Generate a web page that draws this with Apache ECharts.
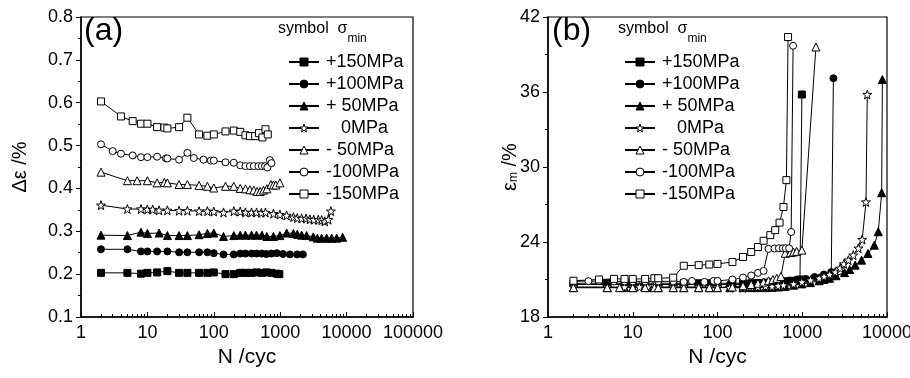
<!DOCTYPE html>
<html>
<head>
<meta charset="utf-8">
<script src="https://cdn.jsdelivr.net/npm/echarts@6/dist/echarts.min.js"></script>
<style>
html,body{margin:0;padding:0;background:#fff}
#chart{width:910px;height:378px}
</style>
</head>
<body>
<div id="chart"></div>
<script>
// panel (a): strain range vs cycles
var nA_p150 = [2,5,8,10,14,20,30,40,60,80,100,150,200,250,300,370,440,530,620,740,890,970];
var deA_p150 = [0.203,0.203,0.201,0.203,0.204,0.207,0.203,0.203,0.203,0.203,0.204,0.200,0.200,0.203,0.203,0.203,0.204,0.203,0.204,0.203,0.201,0.200];
var nA_p100 = [2,5,8,10,14,20,30,40,60,80,100,140,200,250,300,370,440,530,620,740,890,1100,1400,1800,2200];
var deA_p100 = [0.258,0.258,0.253,0.253,0.253,0.253,0.251,0.251,0.251,0.251,0.249,0.246,0.246,0.248,0.248,0.248,0.248,0.248,0.247,0.248,0.249,0.247,0.246,0.246,0.246];
var nA_p50 = [2,5,8,10,15,20,30,40,60,80,100,140,200,250,300,370,440,530,630,790,990,1250,1580,1810,2100,2500,3150,3630,4210,5010,5960,7080,8720];
var deA_p50 = [0.291,0.290,0.298,0.295,0.296,0.290,0.290,0.290,0.292,0.295,0.296,0.288,0.290,0.291,0.291,0.291,0.291,0.291,0.288,0.288,0.290,0.296,0.295,0.293,0.291,0.290,0.287,0.284,0.284,0.284,0.284,0.284,0.286];
var nA_0 = [2,5,8,10,12,15,20,30,40,60,80,100,140,200,250,300,370,440,520,600,790,990,1250,1580,1810,2100,2450,2800,3200,3750,4200,4700,5300,5800];
var deA_0 = [0.361,0.352,0.352,0.351,0.351,0.349,0.349,0.348,0.348,0.347,0.347,0.346,0.344,0.347,0.346,0.344,0.344,0.344,0.343,0.344,0.341,0.339,0.337,0.333,0.331,0.330,0.330,0.328,0.327,0.327,0.326,0.323,0.327,0.347];
var nA_m50 = [2,5,7,10,14,18,20,30,40,60,80,100,150,200,250,300,350,400,450,500,560,630,725,790,860,990];
var deA_m50 = [0.438,0.418,0.418,0.418,0.413,0.414,0.413,0.409,0.409,0.407,0.405,0.401,0.405,0.405,0.400,0.399,0.397,0.396,0.393,0.393,0.396,0.399,0.409,0.408,0.408,0.413];
var nA_m100 = [2,3,4,6,8,10,14,19,20,30,40,50,70,90,100,150,200,250,300,350,400,470,530,590,640,700,740];
var deA_m100 = [0.503,0.487,0.481,0.477,0.473,0.473,0.474,0.470,0.470,0.467,0.483,0.471,0.467,0.465,0.465,0.461,0.460,0.454,0.452,0.452,0.452,0.452,0.452,0.452,0.449,0.466,0.459];
var nA_m150 = [2,4,6,8,10,14,18,20,30,40,60,80,100,150,200,250,300,350,420,480,540,600,650];
var deA_m150 = [0.603,0.568,0.557,0.551,0.551,0.543,0.542,0.540,0.543,0.565,0.526,0.523,0.526,0.533,0.535,0.532,0.524,0.522,0.522,0.529,0.519,0.538,0.526];

// panel (b): mean strain vs cycles
var nB_p150 = [2,5,8,10,14,20,30,40,60,80,100,150,200,250,300,370,440,530,620,740,890,940,990];
var emB_p150 = [20.7,20.7,20.7,20.7,20.7,20.7,20.7,20.7,20.7,20.7,20.7,20.7,20.7,20.7,20.72,20.75,20.78,20.82,20.86,20.9,20.95,21.0,35.8];
var nB_p100 = [2,5,8,10,14,20,30,40,60,80,100,140,200,250,300,370,440,530,620,740,890,1100,1400,1800,2200,2330];
var emB_p100 = [20.6,20.6,20.6,20.6,20.6,20.6,20.6,20.6,20.6,20.6,20.6,20.6,20.6,20.6,20.62,20.65,20.7,20.75,20.8,20.85,20.95,21.05,21.2,21.4,21.6,37.1];
var nB_p50 = [2,5,8,10,15,20,30,40,60,80,100,140,200,250,300,370,440,530,630,790,990,1250,1580,1810,2100,2500,3150,3630,4210,5010,5960,7080,7890,8650,8820];
var emB_p50 = [20.35,20.35,20.35,20.35,20.35,20.35,20.35,20.35,20.35,20.35,20.35,20.35,20.35,20.35,20.35,20.35,20.37,20.4,20.45,20.55,20.65,20.75,20.9,21.0,21.1,21.3,21.55,21.8,22.15,22.55,23.08,23.75,24.82,27.94,37.0];
var nB_0 = [2,5,8,10,12,15,20,30,40,60,80,100,140,200,250,300,370,440,520,600,790,990,1250,1580,1810,2100,2450,2800,3100,3500,4000,4600,5100,5650,5850];
var emB_0 = [20.4,20.4,20.4,20.4,20.4,20.4,20.4,20.4,20.4,20.4,20.4,20.4,20.35,20.35,20.4,20.4,20.45,20.45,20.5,20.55,20.65,20.8,20.95,21.1,21.25,21.4,21.6,21.9,22.25,22.55,22.95,23.5,24.2,27.2,35.8];
var nB_m50 = [2,5,7,10,14,18,20,30,40,60,80,100,150,200,250,300,350,400,450,500,560,630,725,790,860,990,1450];
var emB_m50 = [20.35,20.35,20.35,20.35,20.35,20.35,20.35,20.35,20.35,20.35,20.35,20.35,20.4,20.5,20.6,20.7,20.8,20.9,21.0,21.1,21.25,23.1,23.15,23.2,23.25,23.35,39.6];
var nB_m100 = [2,3,4,6,8,10,14,19,20,30,40,50,70,90,100,150,200,250,300,350,400,470,530,590,640,700,740,780];
var emB_m100 = [20.87,20.87,20.87,20.85,20.85,20.85,20.85,20.85,20.85,20.85,20.81,20.89,20.81,20.89,20.89,21.0,21.16,21.32,21.53,21.69,23.45,23.48,23.5,23.5,23.5,23.5,24.8,39.7];
var nB_m150 = [2,4,6,8,10,14,18,20,30,40,60,80,100,150,200,250,300,350,420,480,540,600,650,680];
var emB_m150 = [20.9,21.0,21.05,21.05,21.05,21.05,21.1,21.1,21.15,22.1,22.15,22.2,22.25,22.4,22.8,23.2,23.6,24.1,24.55,24.95,25.55,26.8,28.95,40.4];

var names = ['+150MPa', '+100MPa', '+ 50MPa', '   0MPa', '- 50MPa', '-100MPa', '-150MPa'];
var xLabelsA = [1, 10, 100, 1000, 10000, 100000];
var xLabelsB = [1, 10, 100, 1000, 10000];

var NARROW = "'Liberation Sans Narrow', 'Liberation Sans', Arial, sans-serif";
var SANS = "'Liberation Sans', Arial, sans-serif";
var star = 'path://M0,-10L2.35,-3.24L9.51,-3.09L3.8,1.24L5.88,8.09L0,4L-5.88,8.09L-3.8,1.24L-9.51,-3.09L-2.35,-3.24Z';
// symbol, size, fill for each stress level
var marks = [['rect', 7, '#000'], ['circle', 7, '#000'], ['triangle', 8, '#000'], [star, 9, '#fff'],
             ['triangle', 8, '#fff'], ['circle', 7, '#fff'], ['rect', 7, '#fff']];

function minorTicks(maxDecade) {
    var out = [];
    for (var d = 0; d < maxDecade; d++)
        for (var k = 2; k <= 9; k++) out.push(k * Math.pow(10, d));
    return out;
}

function mkLine(k, xs, ys, xi, yi) {
    var data = [];
    for (var i = 0; i < xs.length; i++) data.push([xs[i], ys[i]]);
    return {
        name: names[k], type: 'line', xAxisIndex: xi, yAxisIndex: yi, data: data,
        symbol: marks[k][0], symbolSize: marks[k][1], showSymbol: true,
        itemStyle: {color: marks[k][2], borderColor: '#000', borderWidth: 1},
        lineStyle: {color: '#000', width: 1},
        emphasis: {disabled: true}
    };
}

function mkX(grid, max, labels) {
    return {
        type: 'log', logBase: 10, gridIndex: grid, min: 1, max: max, position: 'bottom',
        name: 'N /cyc', nameLocation: 'middle', nameGap: 30,
        nameTextStyle: {fontSize: 21, color: '#000', fontFamily: NARROW},
        axisLine: {show: true, lineStyle: {color: '#000', width: 1.5}},
        axisTick: {show: true, inside: true, length: 5, customValues: labels, lineStyle: {color: '#000'}},
        axisLabel: {show: true, customValues: labels, margin: 7, fontSize: 18, color: '#000', fontFamily: NARROW,
            formatter: function (v) { return String(Math.round(v)); }},
        splitLine: {show: false}
    };
}
function mkXMinor(grid, max, decades) {
    return {
        type: 'log', logBase: 10, gridIndex: grid, min: 1, max: max, position: 'bottom',
        axisLine: {show: false}, axisLabel: {show: false}, splitLine: {show: false},
        axisTick: {show: true, inside: true, length: 3, customValues: minorTicks(decades), lineStyle: {color: '#000'}}
    };
}
function mkY(grid, min, max, step, name, gap) {
    return {
        type: 'value', gridIndex: grid, min: min, max: max, interval: step,
        name: name, nameLocation: 'middle', nameGap: gap, nameMoveOverlap: false,
        nameTextStyle: {fontSize: 20, color: '#000', fontFamily: SANS,
            rich: {e: {fontSize: 20, fontFamily: SANS}, s: {fontSize: 12, fontFamily: SANS, verticalAlign: 'bottom', lineHeight: 12}}},
        axisLine: {show: true, lineStyle: {color: '#000', width: 1.5}},
        axisTick: {show: true, inside: false, length: 5, lineStyle: {color: '#000'}},
        minorTick: {show: true, splitNumber: 2, length: 3, lineStyle: {color: '#000'}},
        axisLabel: {margin: 8, fontSize: 18, color: '#000', fontFamily: NARROW},
        splitLine: {show: false}
    };
}
function mkLegend(left) {
    return {
        left: left, top: 53, orient: 'vertical', padding: 0, itemWidth: 30, itemHeight: 10, itemGap: 4,
        selectedMode: false, data: names,
        itemStyle: {borderWidth: 1},
        textStyle: {fontSize: 18, color: '#000', fontFamily: SANS, padding: [0, 0, 0, 2]}
    };
}
function mkTitle(txt, left, top, size) {
    return {text: txt, left: left, top: top, padding: 0,
        textStyle: {fontSize: size, fontWeight: 'normal', color: '#000', fontFamily: SANS,
            rich: {m: {fontSize: size, fontFamily: SANS, lineHeight: 24, verticalAlign: 'top'},
                   s: {fontSize: 12, fontFamily: SANS, lineHeight: 12, verticalAlign: 'bottom'}}}};
}

var series = [];
var setsA = [[nA_p150, deA_p150], [nA_p100, deA_p100], [nA_p50, deA_p50], [nA_0, deA_0], [nA_m50, deA_m50], [nA_m100, deA_m100], [nA_m150, deA_m150]];
var setsB = [[nB_p150, emB_p150], [nB_p100, emB_p100], [nB_p50, emB_p50], [nB_0, emB_0], [nB_m50, emB_m50], [nB_m100, emB_m100], [nB_m150, emB_m150]];
for (var k = 0; k < 7; k++) series.push(mkLine(k, setsA[k][0], setsA[k][1], 0, 0));
for (var k = 0; k < 7; k++) series.push(mkLine(k, setsB[k][0], setsB[k][1], 2, 1));

var chart = echarts.init(document.getElementById('chart'), null, {renderer: 'canvas'});
chart.setOption({
    animation: false,
    backgroundColor: '#fff',
    title: [
        mkTitle('(a)', 84, 15, 32), mkTitle('(b)', 552, 15, 32),
        mkTitle('{m|symbol  σ}{s|min}', 278, 21, 16), mkTitle('{m|symbol  σ}{s|min}', 618, 21, 16)
    ],
    legend: [mkLegend(288), mkLegend(624)],
    grid: [
        {left: 81, top: 17, width: 332, height: 300, show: true, borderColor: '#000', borderWidth: 1.2, outerBoundsMode: 'none', containLabel: false},
        {left: 548, top: 17, width: 339, height: 300, show: true, borderColor: '#000', borderWidth: 1.2, outerBoundsMode: 'none', containLabel: false}
    ],
    xAxis: [mkX(0, 100000, xLabelsA), mkXMinor(0, 100000, 5), mkX(1, 10000, xLabelsB), mkXMinor(1, 10000, 4)],
    yAxis: [mkY(0, 0.1, 0.8, 0.1, 'Δε /%', 51), mkY(1, 18, 42, 6, '{e|ε}{s|m}{e| /%}', 28)],
    series: series
});
</script>
</body>
</html>
